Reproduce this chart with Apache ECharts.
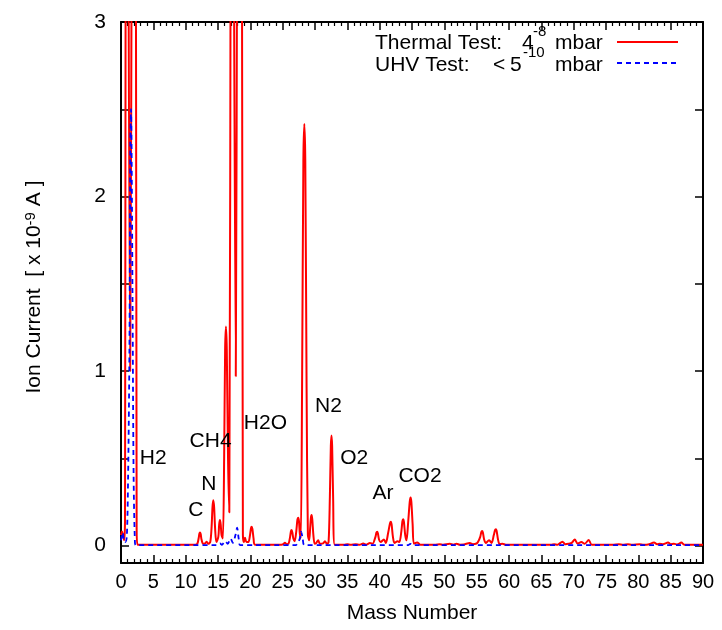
<!DOCTYPE html>
<html><head><meta charset="utf-8">
<script src="https://cdn.jsdelivr.net/npm/echarts@6/dist/echarts.min.js"></script>
<style>html,body{margin:0;padding:0;background:#fff}#c{width:722px;height:630px}</style>
</head><body><div id="c"></div>
<script>
const FONT = '"Liberation Sans", Arial, Helvetica, sans-serif';

// Mass number axis
const xMin = 0, xMax = 90, xStep = 5;
// Ion current axis [x 1e-9 A]
const yMin = -0.1, yMax = 3;
const yTickValues = [0, 0.5, 1, 1.5, 2, 2.5, 3];
const yLabelValues = [0, 1, 2, 3];

// Thermal Test: 4e-8 mbar  -> [mass number, ion current]
const thermalTest = [
  [0, 0.06], [0.15, 0.08], [0.35, 0.05], [0.5, 0.03], [0.62, 0.15], [0.72, 3.5], [0.95, 7], [1.15, 3.5],
  [1.42, 1.0], [1.65, 3.5], [1.95, 7], [2.3, 3.5], [2.42, 0.1], [2.55, 0.005],
  [3, 0.005], [10, 0.005], [11.5, 0.005], [11.8, 0.01], [12.0, 0.04], [12.12, 0.068], [12.21, 0.075],
  [12.32, 0.066], [12.45, 0.035],
  [12.7, 0.01], [13.0, 0.012], [13.25, 0.022], [13.5, 0.01], [13.8, 0.02], [14.0, 0.1], [14.15, 0.22],
  [14.27, 0.26], [14.4, 0.22], [14.55, 0.1], [14.75, 0.02], [15.05, 0.05], [15.18, 0.12], [15.3, 0.146],
  [15.42, 0.12], [15.55, 0.06], [15.75, 0.04], [15.95, 0.5], [16.1, 1.12],
  [16.23, 1.255], [16.36, 1.12], [16.55, 0.5], [16.75, 0.19], [16.95, 3.5], [17.2, 7], [17.45, 3.5], [17.75, 0.97],
  [17.95, 3.5], [18.3, 8], [18.7, 3.5], [18.85, 0.06], [19.0, 0.02], [19.17, 0.045], [19.4, 0.02],
  [19.7, 0.02], [19.95, 0.06], [20.1, 0.1], [20.2, 0.108], [20.32, 0.095], [20.5, 0.04], [20.7, 0.005],
  [24.8, 0.005], [25.1, 0.008], [25.35, 0.016], [25.6, 0.008], [25.9, 0.01], [26.15, 0.05], [26.28, 0.082],
  [26.38, 0.089], [26.5, 0.075],
  [26.65, 0.04], [26.85, 0.025], [27.1, 0.08], [27.28, 0.148], [27.4, 0.16], [27.52, 0.14], [27.65, 0.07],
  [27.8, 0.04], [28.0, 0.9], [28.2, 2.2],
  [28.35, 2.415], [28.5, 2.2], [28.7, 0.9], [28.9, 0.06], [29.1, 0.03], [29.25, 0.1], [29.37, 0.16],
  [29.47, 0.175], [29.58, 0.15], [29.75, 0.06],
  [29.95, 0.01], [30.2, 0.015], [30.49, 0.03], [30.75, 0.01], [31.25, 0.012], [31.53, 0.025], [31.85, 0.01],
  [32.1, 0.02], [32.3, 0.28], [32.45, 0.57], [32.55, 0.63], [32.65, 0.57], [32.8, 0.28], [33.05, 0.005],
  [34.5, 0.005], [35.0, 0.008], [35.5, 0.005], [36.3, 0.008], [36.9, 0.005], [37.45, 0.012], [37.9, 0.005],
  [38.5, 0.015], [38.9, 0.01], [39.35, 0.05], [39.5, 0.074], [39.61, 0.079], [39.72, 0.07], [39.9, 0.035],
  [40.15, 0.02], [40.65, 0.035],
  [40.95, 0.015], [41.3, 0.07], [41.6, 0.128], [41.73, 0.137], [41.85, 0.12], [42.05, 0.05], [42.3, 0.015],
  [42.77, 0.025], [43.05, 0.02],
  [43.35, 0.08], [43.52, 0.14], [43.63, 0.15], [43.75, 0.135], [43.95, 0.06], [44.15, 0.03], [44.4, 0.13],
  [44.65, 0.25], [44.78, 0.276], [44.9, 0.25], [45.1, 0.12],
  [45.3, 0.01], [45.8, 0.018], [46.3, 0.005],
  [48.5, 0.005], [49.3, 0.008], [49.8, 0.005], [50.85, 0.01], [51.4, 0.005], [51.89, 0.01], [52.4, 0.005],
  [53.0, 0.006], [53.94, 0.015], [54.4, 0.008], [54.98, 0.012], [55.2, 0.02], [55.55, 0.05], [55.72, 0.078],
  [55.84, 0.083], [55.96, 0.075],
  [56.15, 0.035], [56.4, 0.015], [56.92, 0.03], [57.3, 0.015], [57.65, 0.06], [57.84, 0.088], [57.96, 0.093],
  [58.08, 0.085], [58.3, 0.035],
  [58.55, 0.008], [59.0, 0.01], [59.5, 0.005],
  [66.5, 0.005], [67.0, 0.008], [67.5, 0.005], [68.27, 0.022], [68.7, 0.008], [69.2, 0.01], [69.7, 0.015],
  [70.17, 0.035], [70.6, 0.012], [71.2, 0.02], [71.7, 0.01], [72.33, 0.032], [72.8, 0.005],
  [76.0, 0.005], [77.0, 0.008], [77.6, 0.005], [78.4, 0.008], [79.0, 0.005], [80.2, 0.008], [80.8, 0.005],
  [81.5, 0.006], [82.43, 0.017], [82.9, 0.008], [83.3, 0.01], [83.8, 0.008], [84.6, 0.017], [85.0, 0.008],
  [85.5, 0.01], [86.0, 0.006], [86.66, 0.017], [87.1, 0.005], [90, 0.005]
];

// UHV Test: < 5e-10 mbar -> [mass number, ion current]
const uhvTest = [
  [0, 0.03], [0.25, 0.075], [0.45, 0.03], [0.65, 0.02], [0.9, 0.05], [1.1, 0.4], [1.3, 1.1], [1.45, 2.3],
  [1.55, 2.5], [1.65, 2.2], [1.8, 1.3], [1.95, 0.4], [2.15, 0.02], [2.3, 0.002],
  [14.8, 0.002], [15.3, 0.012], [15.6, 0.004], [16.1, 0.025], [16.5, 0.01], [16.95, 0.04], [17.3, 0.015],
  [17.7, 0.06], [17.95, 0.102], [18.2, 0.04], [18.45, 0.002],
  [27.0, 0.002], [27.4, 0.02], [27.65, 0.04], [27.85, 0.08], [28.1, 0.04], [28.4, 0.002],
  [44.4, 0.002], [44.75, 0.01], [45.1, 0.002], [90, 0.002]
];

// Peak annotations
const annotationNames = ['H2', 'C', 'N', 'CH4', 'H2O', 'N2', 'O2', 'Ar', 'CO2'];
const annotationMass  = [2.9, 10.4, 12.4, 10.6, 19.0, 30.0, 33.9, 38.9, 42.9];
const annotationLevel = [0.5, 0.2, 0.35, 0.6, 0.7, 0.8, 0.5, 0.3, 0.4];

const chart = echarts.init(document.getElementById('c'), null, {renderer: 'canvas'});

const frame = {onZero: false, lineStyle: {color: '#000', width: 2}};
const tick = {inside: true, length: 8, lineStyle: {color: '#000', width: 1.5}};
const minor = {show: true, splitNumber: 5, length: 4, lineStyle: {color: '#000', width: 1.2}};

const option = {
  animation: false,
  backgroundColor: '#fff',
  textStyle: {fontFamily: FONT},
  grid: {left: 121, right: 19, top: 22, bottom: 67, show: false},
  xAxis: [
    {type: 'value', position: 'bottom', min: xMin, max: xMax, interval: xStep,
     axisLine: frame, axisTick: tick, minorTick: minor, splitLine: {show: false},
     axisLabel: {color: '#000', fontSize: 20, fontFamily: FONT, margin: 9},
     name: 'Mass Number', nameLocation: 'middle', nameGap: 40,
     nameTextStyle: {color: '#000', fontSize: 21, fontFamily: FONT}},
    {type: 'value', position: 'top', min: xMin, max: xMax, interval: xStep,
     axisLine: frame, axisTick: tick, minorTick: minor, splitLine: {show: false},
     axisLabel: {show: false}}
  ],
  yAxis: [
    {type: 'value', position: 'left', min: yMin, max: yMax,
     axisLine: {show: true, ...frame}, axisTick: {...tick, customValues: yTickValues},
     splitLine: {show: false},
     axisLabel: {color: '#000', fontSize: 21, fontFamily: FONT, margin: 15, customValues: yLabelValues}},
    {type: 'value', position: 'right', min: yMin, max: yMax,
     axisLine: {show: true, ...frame}, axisTick: {...tick, customValues: yTickValues},
     splitLine: {show: false}, axisLabel: {show: false}}
  ],
  series: [
    {name: 'Thermal Test', type: 'line', data: thermalTest, xAxisIndex: 0, yAxisIndex: 0,
     showSymbol: false, symbol: 'none', smooth: 0.3, clip: true,
     lineStyle: {color: '#ff0000', width: 2}, z: 3},
    {name: 'UHV Test', type: 'line', data: uhvTest, xAxisIndex: 0, yAxisIndex: 0,
     showSymbol: false, symbol: 'none', smooth: 0.3, clip: true,
     lineStyle: {color: '#0000ff', width: 1.8, type: [5, 4]}, z: 4},
    {name: 'labels', type: 'scatter', xAxisIndex: 0, yAxisIndex: 0, symbolSize: 0,
     itemStyle: {color: '#000', opacity: 1}, silent: true, z: 5,
     data: annotationNames.map((n, i) => ({name: n, value: [annotationMass[i], annotationLevel[i]]})),
     label: {show: true, position: 'right', distance: 0, formatter: p => p.name, opacity: 1,
             color: '#000', textBorderWidth: 0, fontSize: 21, fontFamily: FONT}}
  ],
  graphic: [
    // legend
    {type: 'text', left: 375, top: 33, style: {text: 'Thermal Test:', font: '21px ' + FONT, fill: '#000'}},
    {type: 'text', left: 522, top: 33, style: {text: '4', font: '21px ' + FONT, fill: '#000'}},
    {type: 'text', left: 533, top: 24, style: {text: '-8', font: '15px ' + FONT, fill: '#000'}},
    {type: 'text', left: 555, top: 33, style: {text: 'mbar', font: '21px ' + FONT, fill: '#000'}},
    {type: 'line', shape: {x1: 617, y1: 42, x2: 678, y2: 42}, style: {stroke: '#ff0000', lineWidth: 2}},
    {type: 'text', left: 375, top: 55, style: {text: 'UHV Test:', font: '21px ' + FONT, fill: '#000'}},
    {type: 'text', left: 493, top: 55, style: {text: '<', font: '21px ' + FONT, fill: '#000'}},
    {type: 'text', left: 510, top: 55, style: {text: '5', font: '21px ' + FONT, fill: '#000'}},
    {type: 'text', left: 523, top: 45, style: {text: '-10', font: '15px ' + FONT, fill: '#000'}},
    {type: 'text', left: 555, top: 55, style: {text: 'mbar', font: '21px ' + FONT, fill: '#000'}},
    {type: 'line', shape: {x1: 617, y1: 63, x2: 678, y2: 63}, style: {stroke: '#0000ff', lineWidth: 1.8, lineDash: [5, 4]}},
    // y axis title
    {type: 'text', x: 34, y: 287, rotation: Math.PI / 2,
     style: {text: '{a|Ion Current  [ x 10}{s|-9}{a| A ]}', align: 'center', verticalAlign: 'middle',
       rich: {a: {fontSize: 21, fontFamily: FONT, fill: '#000', lineHeight: 21, verticalAlign: 'bottom'},
              s: {fontSize: 15, fontFamily: FONT, fill: '#000', lineHeight: 15, padding: [0, 0, 10, 0], verticalAlign: 'top'}}}}
  ]
};
chart.setOption(option);
</script>
</body></html>
